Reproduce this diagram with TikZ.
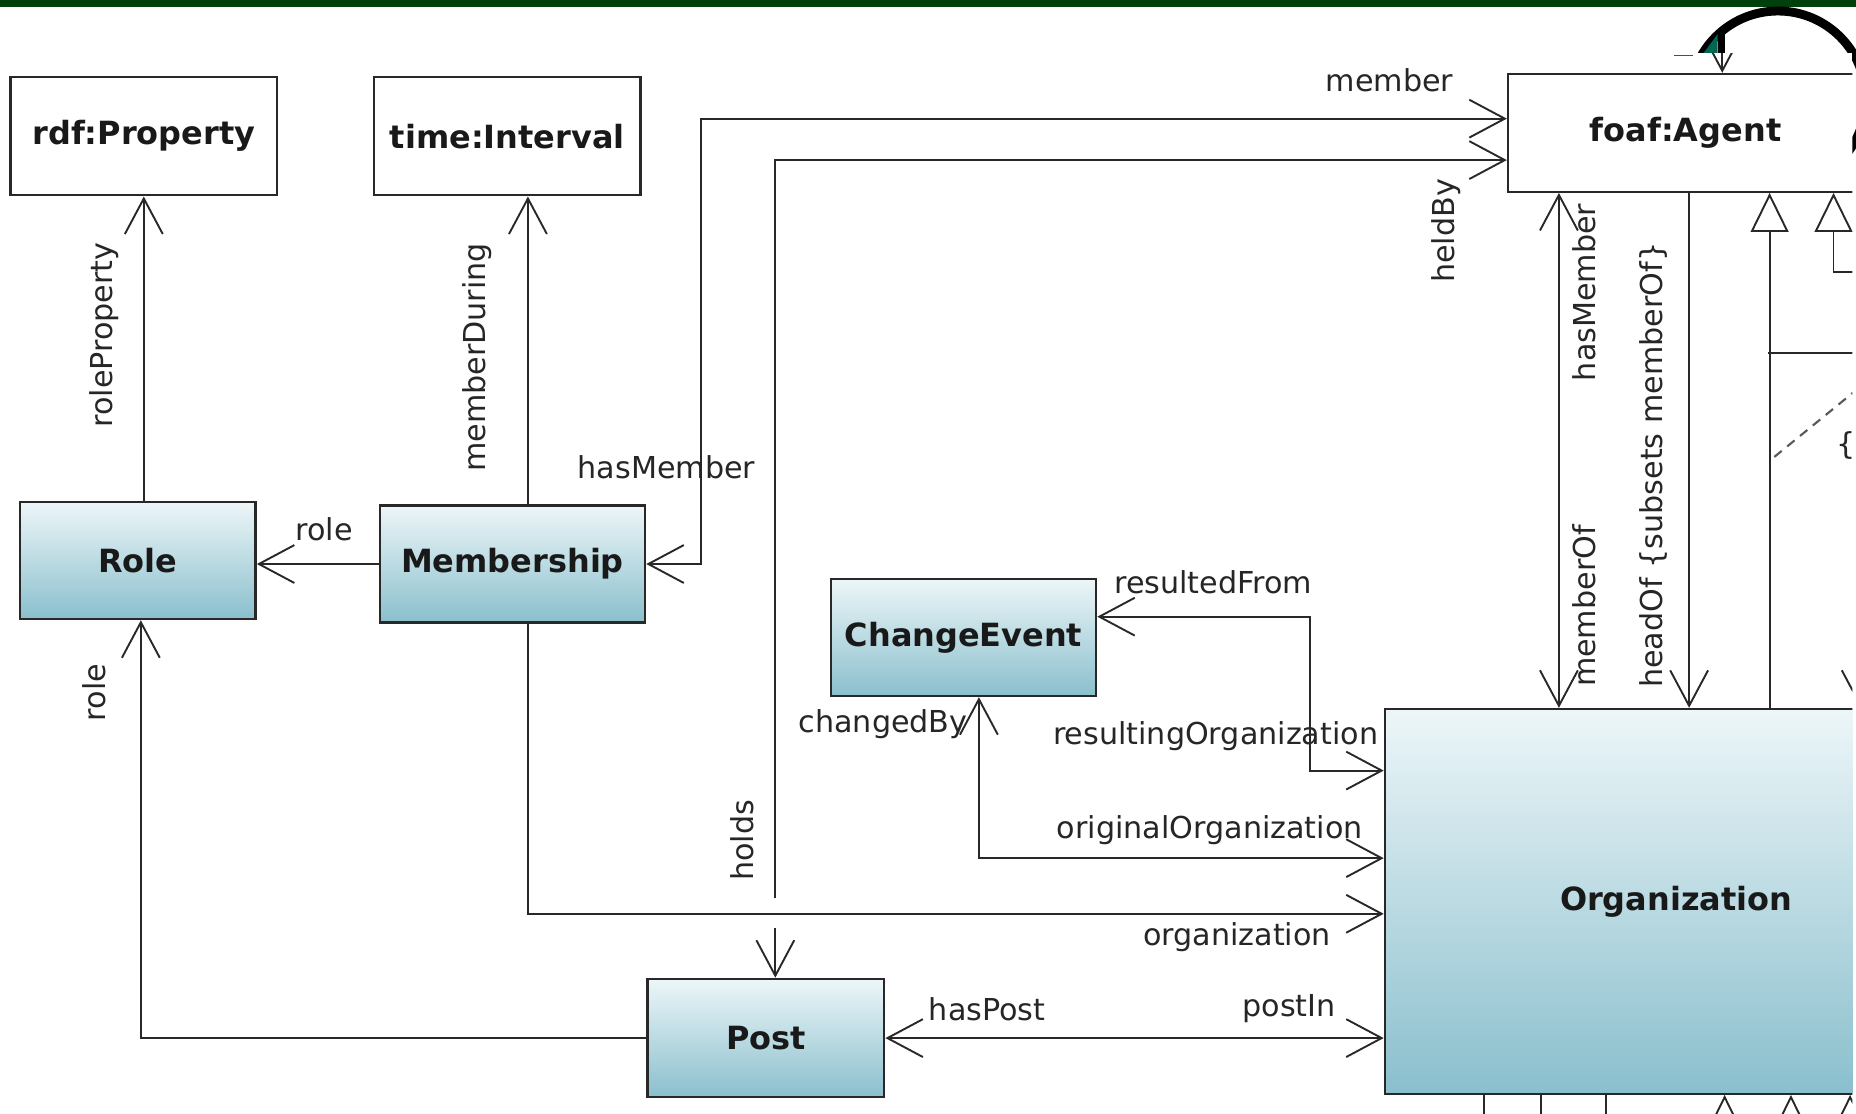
\documentclass[tikz,border=0pt]{standalone}
\usepackage{fontspec}
\setmainfont{DejaVu Sans}
\usetikzlibrary{arrows.meta}
\definecolor{boxtop}{RGB}{237,246,248}
\definecolor{boxbot}{RGB}{138,191,205}
\definecolor{edgecol}{RGB}{40,40,40}
\definecolor{slidegreen}{RGB}{0,64,12}
\definecolor{iconteal}{RGB}{0,102,86}
\begin{document}
\begin{tikzpicture}[x=1pt,y=-1pt,
  lbl/.style={font=\fontsize{25.5}{30}\selectfont, text=black!85, inner sep=0pt},
  cls/.style={draw=edgecol, line width=2pt, font=\fontsize{27}{32}\selectfont\bfseries, anchor=north west, inner sep=0pt, text=black!90},
  plainbox/.style={cls, fill=white},
  shadedbox/.style={cls, top color=boxtop, bottom color=boxbot},
  conn/.style={draw=edgecol, line width=1.6pt},
  gen/.style={-{Triangle[length=33pt,width=32pt,fill=white]}},
  >={Straight Barb[length=30pt,width=32pt]}]
\useasboundingbox (0,0) rectangle (1568,941);
% slide background
\fill[white] (0,0) rectangle (1568,941);
\fill[slidegreen] (0,0) rectangle (1568,5.5);
\draw[line width=7.5pt] (1502,83.6) circle[radius=74.3pt];
\fill[iconteal] (1439,45) -- (1451,29) -- (1451,45) -- cycle;
\draw[line width=6pt] (1454,25) -- (1454,45);
% pasted diagram
\fill[white] (0,45) rectangle (1565,941);
\begin{scope}
\clip (0,45) rectangle (1565,941);
% classes
\node[plainbox, minimum width=225pt, minimum height=100pt] (rdf) at (8,64) {rdf:Property};
\node[plainbox, minimum width=225pt, minimum height=100pt] (time) at (315,64) {time:Interval};
\node[shadedbox, minimum width=199pt, minimum height=99pt] (role) at (16,423) {Role};
\node[shadedbox, minimum width=224pt, minimum height=99pt] (mem) at (320,426) {Membership};
\node[shadedbox, minimum width=224pt, minimum height=99pt] (ce) at (701,488) {ChangeEvent};
\node[shadedbox, minimum width=200pt, minimum height=100pt] (post) at (546,826) {Post};
\node[shadedbox, minimum width=492pt, minimum height=325pt] (org) at (1169,598) {Organization};
\node[plainbox, minimum width=300pt, minimum height=99.5pt] (agent) at (1273,61.5) {foaf:Agent};
% free-end coordinates
\coordinate (holdsend) at (655,759);
\coordinate (holdsgap) at (655,784);
\coordinate (g1) at (1494,298);
\coordinate (g1r) at (1600,298);
\coordinate (g2r) at (1600,230);
\coordinate (d1) at (1499,386);
\coordinate (d2) at (1575,324);
\coordinate (rarr) at (1572,500);
\coordinate (ftop) at (1455,20);
\coordinate (da) at (1414,47);
\coordinate (db) at (1430,47);
\coordinate (b1) at (1254,960);
\coordinate (b2) at (1302,960);
\coordinate (b3) at (1357,960);
\coordinate (t1) at (1457,990);
\coordinate (t2) at (1513,990);
\coordinate (t3) at (1563,990);
% connectors
\draw[conn,->] (role.north -| rdf.south) -- (rdf.south);
\draw[conn,->] ([xshift=13pt]mem.north) -- ([xshift=13pt]mem.north |- time.south);
\draw[conn,->] (mem.west) -- (mem.west -| role.east);
\draw[conn,<->] (mem.east) -- ++(46,0) |- ([yshift=12pt]agent.west);
\draw[conn,->] (holdsend) |- ([yshift=-23pt]agent.west);
\draw[conn,->] (holdsgap) -- (holdsgap |- post.north);
\draw[conn,->] ([xshift=13pt]mem.south) |- ([yshift=-10.5pt]org.west);
\draw[conn,<->] ([yshift=17.5pt]ce.east) -- ++(180,0) |- ([yshift=110.5pt]org.west);
\draw[conn,<->] ([xshift=13pt]ce.south) |- ([yshift=36.5pt]org.west);
\draw[conn,<->] (post.east) -- (post.east -| org.west);
\draw[conn,->] (post.west) -| ([xshift=2.5pt]role.south);
\draw[conn,<->] ([xshift=-107pt]agent.south) -- ([xshift=-107pt]agent.south |- org.north);
\draw[conn,->] ([xshift=3pt]agent.south) -- ([xshift=3pt]agent.south |- org.north);
\draw[conn,gen] ([xshift=71pt]agent.south |- org.north) -- ([xshift=71pt]agent.south);
\draw[conn] (g1) -- (g1r);
\draw[conn,gen] (g2r) -| ([xshift=125pt]agent.south);
\draw[conn, draw=black!65, line width=1.8pt, dash pattern=on 8pt off 6pt] (d1) -- (d2);
\draw[conn,->] (rarr) -- (rarr |- org.north);
\draw[conn,->] (ftop) -- (ftop |- agent.north);
\draw[conn, line width=1.3pt, draw=black!70] (da) -- (db);
\draw[conn] (b1) -- (b1 |- org.south);
\draw[conn] (b2) -- (b2 |- org.south);
\draw[conn] (b3) -- (b3 |- org.south);
\draw[conn,gen] (t1) -- (t1 |- org.south);
\draw[conn,gen] (t2) -- (t2 |- org.south);
\draw[conn,gen] (t3) -- (t3 |- org.south);
% labels
\node[lbl] (lmember) at (1174,68) {member};
\node[lbl, rotate=90] (lheldby) at (1222,195) {heldBy};
\node[lbl] (lhasmem1) at (563,395) {hasMember};
\node[lbl, rotate=90] (lroleprop) at (88,283) {roleProperty};
\node[lbl, rotate=90] (lmemdur) at (403,302) {memberDuring};
\node[lbl] (lrole1) at (274,447) {role};
\node[lbl] (lresfrom) at (1025,492) {resultedFrom};
\node[lbl] (lchanged) at (746,612) {changedBy};
\node[lbl] (lresorg) at (1027,622) {resultingOrganization};
\node[lbl] (lorigorg) at (1022,701) {originalOrganization};
\node[lbl, rotate=90] (lholds) at (627,710) {holds};
\node[lbl] (lorg) at (1045,792) {organization};
\node[lbl] (lhaspost) at (834,853) {hasPost};
\node[lbl] (lpostin) at (1089,852) {postIn};
\node[lbl, rotate=90] (lrole2) at (80,585) {role};
\node[lbl, rotate=90] (lhasmem2) at (1338,247) {hasMember};
\node[lbl, rotate=90] (lmemof) at (1338,512) {memberOf};
\node[lbl, rotate=90] (lheadof) at (1397,393) {headOf \{subsets memberOf\}};
\node[lbl, anchor=west] (lcut) at (1551,376) {\{c};
\end{scope}
\end{tikzpicture}
\end{document}
